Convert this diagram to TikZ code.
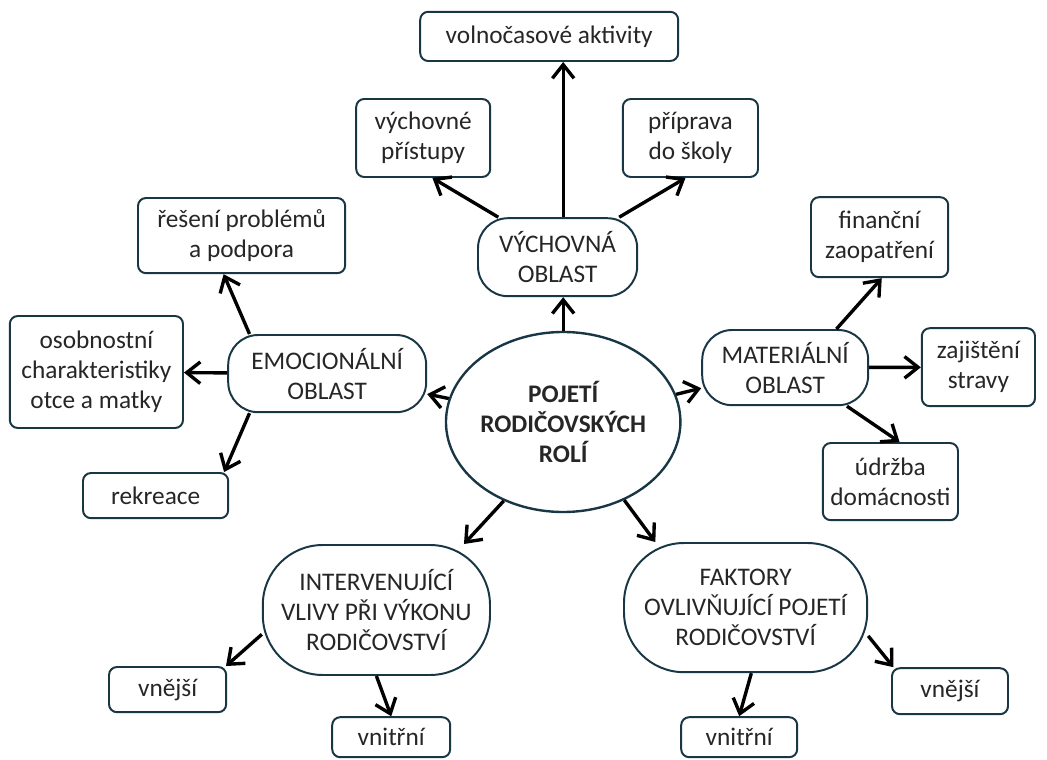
\documentclass[tikz,border=0pt]{standalone}
\usepackage{fontspec}
\setmainfont{Carlito}
\usetikzlibrary{shapes.geometric, arrows.meta}
\definecolor{edgeteal}{RGB}{24,54,68}

\begin{document}
\begin{tikzpicture}[
    >={Straight Barb[length=3.4mm, width=5.4mm]},
    every node/.style={font=\fontsize{18}{21.3}\selectfont, align=center, inner sep=0pt, text=black!85},
    leaf/.style={draw=edgeteal, line width=1.4pt, rounded corners=0.2cm, fill=white},
    area/.style={draw=edgeteal, line width=1.4pt, rounded corners=0.75cm, fill=white},
    bigarea/.style={draw=edgeteal, line width=1.4pt, rounded corners=1.5cm, fill=white},
    link/.style={->, line width=2.4pt}
]
    \useasboundingbox (0, 0) rectangle (26.175, -19);

    \node[draw=edgeteal, line width=1.7pt, ellipse, minimum width=5.75cm, minimum height=4.5cm, font=\fontsize{18}{21.3}\selectfont\bfseries] (ctr) at (14.08, -10.55) {POJETÍ\\RODIČOVSKÝCH\\ROLÍ};

    \node[area, minimum width=3.98cm, minimum height=1.95cm] (vych) at (13.94, -6.43) {VÝCHOVNÁ\\OBLAST};
    \node[leaf, minimum width=6.45cm, minimum height=1.23cm] (voln) at (13.73, -0.91) {volnočasové aktivity};
    \node[leaf, minimum width=3.35cm, minimum height=1.95cm] (vyst) at (10.58, -3.45) {výchovné\\přístupy};
    \node[leaf, minimum width=3.38cm, minimum height=1.95cm] (prip) at (17.26, -3.45) {příprava\\do školy};

    \node[area, minimum width=4.95cm, minimum height=1.93cm] (emo) at (8.18, -9.34) {EMOCIONÁLNÍ\\OBLAST};
    \node[leaf, minimum width=5.18cm, minimum height=1.88cm] (res) at (6.04, -5.89) {řešení problémů\\a podpora};
    \node[leaf, minimum width=4.33cm, minimum height=2.8cm] (osob) at (2.41, -9.3) {osobnostní\\charakteristiky\\otce a matky};
    \node[leaf, minimum width=3.63cm, minimum height=1.13cm] (rek) at (3.89, -12.39) {rekreace};

    \node[area, minimum width=4.15cm, minimum height=1.88cm] (mat) at (19.63, -9.19) {MATERIÁLNÍ\\OBLAST};
    \node[leaf, minimum width=3.43cm, minimum height=2cm] (fin) at (21.99, -5.93) {finanční\\zaopatření};
    \node[leaf, minimum width=2.83cm, minimum height=1.95cm] (zaj) at (24.46, -9.18) {zajištění\\stravy};
    \node[leaf, minimum width=3.38cm, minimum height=1.93cm] (udr) at (22.26, -12.04) {údržba\\domácnosti};

    \node[bigarea, minimum width=5.68cm, minimum height=3.25cm] (interv) at (9.41, -15.25) {INTERVENUJÍCÍ\\VLIVY PŘI VÝKONU\\RODIČOVSTVÍ};
    \node[leaf, minimum width=2.93cm, minimum height=1.13cm] (vnej1) at (4.19, -17.24) {vnější};
    \node[leaf, minimum width=2.95cm, minimum height=1cm] (vnit1) at (9.78, -18.43) {vnitřní};

    \node[bigarea, minimum width=6.08cm, minimum height=3.23cm] (fakt) at (18.64, -15.19) {FAKTORY\\OVLIVŇUJÍCÍ POJETÍ\\RODIČOVSTVÍ};
    \node[leaf, minimum width=2.9cm, minimum height=1.15cm] (vnej2) at (23.75, -17.28) {vnější};
    \node[leaf, minimum width=2.9cm, minimum height=1cm] (vnit2) at (18.48, -18.43) {vnitřní};

    \draw[link] (ctr.north) to (vych.south -| ctr.north);
    \draw[link] (vych.north -| ctr.north) to (voln.south -| ctr.north);
    \draw[link] (vych.146) to (vyst.283);
    \draw[link] (vych.33) to (prip.263);

    \draw[link] (ctr) to (emo);
    \draw[link] (emo.153) to (res.245);
    \draw[link] (emo) to (osob);
    \draw[link] (emo.207) to (rek.19);

    \draw[link] (ctr) to (mat);
    \draw[link] (mat.37) to (fin.273);
    \draw[link] (mat) to (zaj);
    \draw[link] (mat.328) to (udr.77);

    \draw[link] (ctr.233) to (interv.37);
    \draw[link] (interv.192) to (vnej1.22);
    \draw[link] (interv.south) to (vnit1.north);

    \draw[link] (ctr.308) to (fakt.144);
    \draw[link] (fakt.347) to (vnej2.157);
    \draw[link] (fakt.-85) to (vnit2.north);
\end{tikzpicture}
\end{document}
